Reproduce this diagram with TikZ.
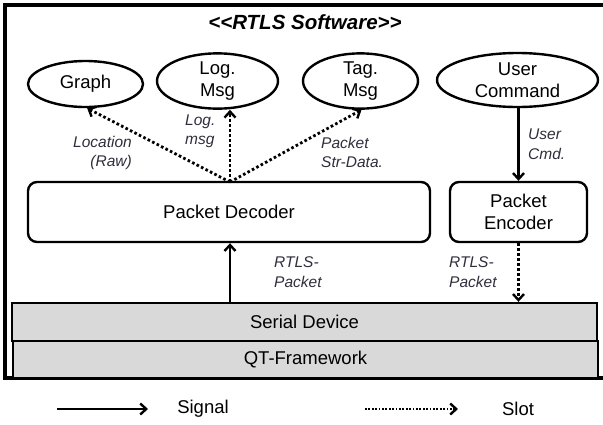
\documentclass[tikz,border=0pt]{standalone}
\usepackage{fontspec}
\setmainfont{Liberation Sans}
\usetikzlibrary{shapes.geometric,arrows.meta,calc}
\definecolor{boxgray}{HTML}{D9D9D9}
\definecolor{lblcol}{HTML}{2E2E3C}
\begin{document}
\begin{tikzpicture}[x=1pt,y=-1pt,
  ell/.style={ellipse,draw,line width=2.4pt,inner sep=0pt,align=center,font=\fontsize{18.5}{22.5}\selectfont},
  rbox/.style={draw,rounded corners=9pt,line width=2.4pt,inner sep=0pt,align=center,font=\fontsize{18.5}{22.5}\selectfont},
  gbox/.style={draw,fill=boxgray,line width=2.4pt,inner sep=0pt,font=\fontsize{18.5}{22.5}\selectfont},
  lbl/.style={font=\fontsize{15.5}{19.5}\selectfont\itshape,text=lblcol,inner sep=0pt},
  sig/.style={line width=2.4pt,-{Straight Barb[length=6pt,width=11pt,line width=2.4pt]}},
  slot/.style={line width=2.8pt,dash pattern=on 2.6pt off 2.4pt,-{Straight Barb[length=6pt,width=11pt,line width=2.4pt]}},
  legtxt/.style={font=\fontsize{18.5}{22}\selectfont,inner sep=0pt}]
\useasboundingbox (0,0) rectangle (603,424);
% outer frame
\draw[line width=3.2pt] (603,5) -- (5,5) -- (5,378) -- (603,378);
\node[font=\fontsize{20.5}{24}\selectfont\bfseries\itshape] (title) at (305,22) {<{}<RTLS Software>{}>};
% ellipses
\node[ell,minimum width=115pt,minimum height=46pt] (graph) at (85.5,84) {Graph};
\node[ell,minimum width=121pt,minimum height=52pt] (log) at (217.5,81) {Log.\\Msg};
\node[ell,minimum width=115pt,minimum height=52pt] (tag) at (360.5,81) {Tag.\\Msg};
\node[ell,minimum width=161pt,minimum height=54pt] (user) at (517.5,80) {User\\Command};
% boxes
\node[rbox,minimum width=402pt,minimum height=60pt] (dec) at (229,212) {Packet Decoder};
\node[rbox,minimum width=137pt,minimum height=60pt] (enc) at (518.5,212) {Packet\\Encoder};
\node[gbox,minimum width=585pt,minimum height=38pt] (serial) at (304.5,322) {Serial Device};
\node[gbox,minimum width=585pt,minimum height=37pt] (qt) at (305.5,359.5) {QT-Framework};
% converging point on decoder
\coordinate (cv) at (230,182);
\draw[slot] (cv) -- (graph.-86);
\draw[slot] (cv) -- (log.south -| cv);
\draw[slot] (cv) -- (tag.-88);
\draw[sig] (user.south -| enc.north) -- (enc.north);
\draw[sig] (serial.north -| cv) -- (dec.south -| cv);
\draw[slot] (enc.south) -- (enc.south |- serial.north);
% labels
\node[lbl,align=right,anchor=east] (lloc) at (132,153) {Location\\(Raw)};
\node[lbl,align=left,anchor=west] (llog) at (185,131.5) {Log.\\msg};
\node[lbl,align=left,anchor=west] (lstr) at (321,152.5) {Packet\\Str-Data.};
\node[lbl,align=left,anchor=west] (lcmd) at (528,144) {User\\Cmd.};
\node[lbl,align=left,anchor=west] (lrt1) at (274,272) {RTLS-\\Packet};
\node[lbl,align=left,anchor=west] (lrt2) at (449,272) {RTLS-\\Packet};
% legend
\coordinate (la) at (57,409);
\coordinate (lb) at (148,409);
\coordinate (lc) at (365,409);
\coordinate (ld) at (458,409);
\draw[sig] (la) -- (lb);
\node[legtxt] (lsig) at (203,409) {Signal};
\draw[slot,line width=2pt,dash pattern=on 1.8pt off 1.6pt] (lc) -- (ld);
\node[legtxt] (lslot) at (518,409) {Slot};
\end{tikzpicture}
\end{document}
